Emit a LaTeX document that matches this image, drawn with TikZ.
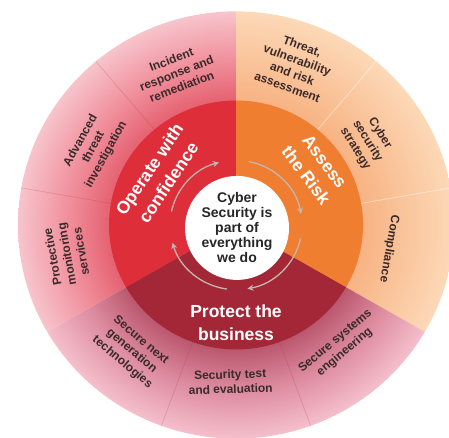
\documentclass[tikz,border=0pt]{standalone}
\usepackage{fontspec}
\setmainfont{Liberation Sans}
\usetikzlibrary{arrows.meta}

\definecolor{operatered}{RGB}{222,46,57}
\definecolor{assessorange}{RGB}{239,126,48}
\definecolor{protectred}{RGB}{164,39,55}
\definecolor{ringtext}{RGB}{58,42,42}
\definecolor{turngrey}{RGB}{196,182,172}

\pgfdeclareradialshading{operatering}{\pgfpoint{0bp}{0bp}}{rgb(0bp)=(0.90,0.38,0.44); rgb(14.5bp)=(0.90,0.38,0.44); rgb(19bp)=(0.94,0.55,0.60); rgb(25bp)=(0.97,0.77,0.80); rgb(50bp)=(0.97,0.77,0.80)}
\pgfdeclareradialshading{assessring}{\pgfpoint{0bp}{0bp}}{rgb(0bp)=(0.97,0.70,0.51); rgb(14.5bp)=(0.97,0.70,0.51); rgb(25bp)=(0.99,0.85,0.72); rgb(50bp)=(0.99,0.85,0.72)}
\pgfdeclareradialshading{protectring}{\pgfpoint{0bp}{0bp}}{rgb(0bp)=(0.73,0.34,0.43); rgb(14.5bp)=(0.73,0.34,0.43); rgb(19.5bp)=(0.87,0.55,0.63); rgb(25bp)=(0.96,0.75,0.80); rgb(50bp)=(0.96,0.75,0.80)}

\tikzset{
  ringlabel/.style={align=center, text=ringtext, font=\fontsize{12}{14.5}\selectfont\bfseries, inner sep=0pt},
  sectorlabel/.style={align=center, text=white, font=\fontsize{17.5}{23}\selectfont\bfseries, inner sep=0pt},
  corelabel/.style={circle, fill=white, minimum size=104pt, align=center, font=\fontsize{14}{15}\selectfont\bfseries, text=black!85, inner sep=0pt},
  turnarrow/.style={draw=turngrey, line width=1.3pt, -{Stealth[length=6pt,width=6pt]}},
  pinkline/.style={draw=protectred, opacity=0.18, line width=0.8pt},
  peachline/.style={draw=white, opacity=0.45, line width=0.8pt}
}

\begin{document}
\begin{tikzpicture}
\useasboundingbox (0pt,0pt) rectangle (449pt,438pt);
\begin{scope}[shift={(236pt,213pt)}, x=1pt, y=0.98pt]
\begin{scope}
\clip (0,0) -- (90:230) arc[start angle=90, end angle=210, radius=230] -- cycle;
\shade[shading=operatering] (0,0) circle[radius=218];
\end{scope}
\begin{scope}
\clip (0,0) -- (-30:230) arc[start angle=-30, end angle=90, radius=230] -- cycle;
\shade[shading=assessring] (0,0) circle[radius=218];
\end{scope}
\begin{scope}
\clip (0,0) -- (210:230) arc[start angle=210, end angle=330, radius=230] -- cycle;
\shade[shading=protectring] (0,0) circle[radius=218];
\end{scope}
\draw[pinkline] (130:127) -- (130:218);
\draw[pinkline] (170:127) -- (170:218);
\draw[peachline] (50:127) -- (50:218);
\draw[peachline] (10:127) -- (10:218);
\draw[pinkline] (250:127) -- (250:218);
\draw[pinkline] (290:127) -- (290:218);

\fill[operatered] (0,0) -- (90:127) arc[start angle=90, end angle=210, radius=127] -- cycle;
\fill[assessorange] (0,0) -- (-30:127) arc[start angle=-30, end angle=90, radius=127] -- cycle;
\fill[protectred] (0,0) -- (210:127) arc[start angle=210, end angle=330, radius=127] -- cycle;

\draw[turnarrow] (168:66) arc[start angle=168, end angle=105, radius=66];
\draw[turnarrow] (79:66) arc[start angle=79, end angle=10, radius=66];
\draw[turnarrow] (-12:66) arc[start angle=-12, end angle=-80, radius=66];
\draw[turnarrow] (-98:66) arc[start angle=-98, end angle=-164, radius=66];

\node[corelabel] (core) at (1,-3) {Cyber\\Security is\\part of\\everything\\we do};

\node[sectorlabel, rotate=56] (operate) at (147:92) {Operate with\\confidence};
\node[sectorlabel, rotate=-53] (assess) at (36:98) {Assess\\the Risk};
\node[sectorlabel] (protect) at (-90:100) {Protect the\\business};

\node[ringlabel, rotate=21] (incident) at (111:166) {Incident\\response and\\remediation};
\node[ringlabel, rotate=61] (advanced) at (151:163) {Advanced\\threat\\investigation};
\node[ringlabel, rotate=100] (protective) at (190:172) {Protective\\monitoring\\services};
\node[ringlabel, rotate=-40] (securenext) at (231:166) {Secure next\\generation\\technologies};
\node[ringlabel, rotate=2] (sectest) at (268:160) {Security test\\and evaluation};
\node[ringlabel, rotate=40] (secsystems) at (-50:162) {Secure systems\\engineering};
\node[ringlabel, rotate=-100] (compliance) at (-9:155) {Compliance};
\node[ringlabel, rotate=-58] (strategy) at (33:157) {Cyber\\security\\strategy};
\node[ringlabel, rotate=-20] (threat) at (70:172) {Threat,\\vulnerability\\and risk\\assessment};
\end{scope}
\end{tikzpicture}
\end{document}
